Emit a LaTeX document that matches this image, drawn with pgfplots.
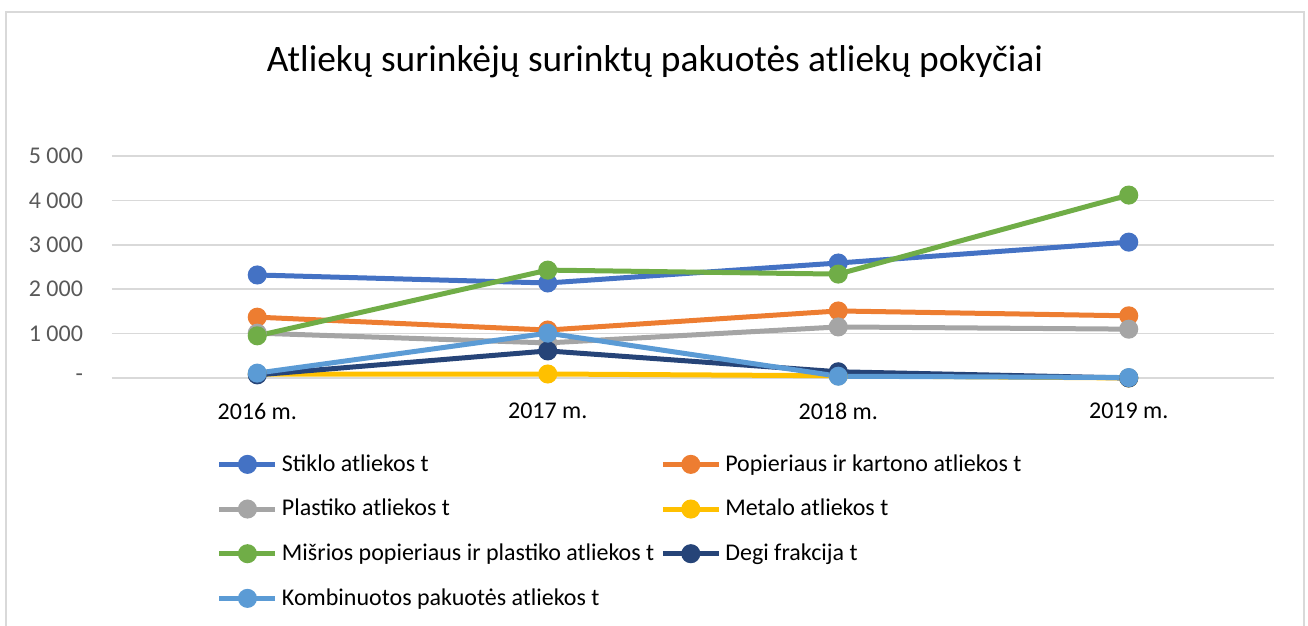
\documentclass[border=0pt]{standalone}
\usepackage{fontspec}
\setmainfont{Carlito}
\usepackage{pgfplots}
\pgfplotsset{compat=1.18}
\definecolor{cBlue}{HTML}{4472C4}
\definecolor{cOrange}{HTML}{ED7D31}
\definecolor{cGrey}{HTML}{A5A5A5}
\definecolor{cYellow}{HTML}{FFC000}
\definecolor{cGreen}{HTML}{70AD47}
\definecolor{cNavy}{HTML}{264478}
\definecolor{cLBlue}{HTML}{5B9BD5}
\definecolor{gridc}{HTML}{D9D9D9}
\definecolor{tickc}{HTML}{595959}
\begin{document}
\begin{tikzpicture}
\path[use as bounding box] (0,0) rectangle (654pt,313pt);
\draw[gridc, line width=1.2pt] (3pt,-5pt) -- (3pt,307pt) -- (652pt,307pt) -- (652pt,-5pt);
\node[font=\fontsize{18.7}{21}\selectfont, text=black] at (327.5pt,282pt) {Atliekų surinkėjų surinktų pakuotės atliekų pokyčiai};
\begin{axis}[
  at={(56pt,124pt)}, anchor=south west,
  scale only axis, width=581pt, height=111pt,
  xmin=-0.5, xmax=3.5, ymin=0, ymax=5000,
  xtick={0,1,2,3}, xticklabels={2016 m.,2017 m.,2018 m.,2019 m.},
  ytick={0,1000,2000,3000,4000,5000},
  yticklabels={-\hspace{7pt},1 000,2 000,3 000,4 000,5 000},
  axis line style={draw=none},
  major tick length=0pt,
  ymajorgrids, grid style={gridc, line width=0.8pt},
  tick label style={font=\fontsize{12}{14}\selectfont},
  yticklabel style={text=tickc, xshift=-11pt},
  xticklabel style={text=black, yshift=-9pt},
  clip=false,
  every axis plot/.append style={line width=2.5pt, mark=*, mark size=3.5pt},
  legend columns=2,
  legend style={at={(0.09,-0.325)}, anchor=north west, draw=none, fill=none,
    font=\fontsize{12}{14}\selectfont, /tikz/every even column/.append style={column sep=1pt},
    row sep=8.5pt, inner sep=0pt, cells={anchor=west}},
  legend image code/.code={\draw[#1, mark repeat=2, mark phase=2] plot coordinates {(0pt,0pt) (14pt,0pt) (28pt,0pt)};},
]
\addplot[color=cBlue, mark options={fill=cBlue}] coordinates {(0,2320) (1,2140) (2,2590) (3,3060)};
\addlegendentry{Stiklo atliekos t}
\addplot[color=cOrange, mark options={fill=cOrange}] coordinates {(0,1370) (1,1080) (2,1510) (3,1400)};
\addlegendentry{Popieriaus ir kartono atliekos t}
\addplot[color=cGrey, mark options={fill=cGrey}] coordinates {(0,1010) (1,790) (2,1150) (3,1100)};
\addlegendentry{Plastiko atliekos t}
\addplot[color=cYellow, mark options={fill=cYellow}] coordinates {(0,90) (1,90) (2,50) (3,0)};
\addlegendentry{Metalo atliekos t}
\addplot[color=cGreen, mark options={fill=cGreen}] coordinates {(0,950) (1,2430) (2,2340) (3,4120)};
\addlegendentry{Mišrios popieriaus ir plastiko atliekos t}
\addplot[color=cNavy, mark options={fill=cNavy}] coordinates {(0,70) (1,610) (2,140) (3,0)};
\addlegendentry{Degi frakcija t}
\addplot[color=cLBlue, mark options={fill=cLBlue}] coordinates {(0,110) (1,1010) (2,40) (3,10)};
\addlegendentry{Kombinuotos pakuotės atliekos t}
\end{axis}
\end{tikzpicture}
\end{document}
